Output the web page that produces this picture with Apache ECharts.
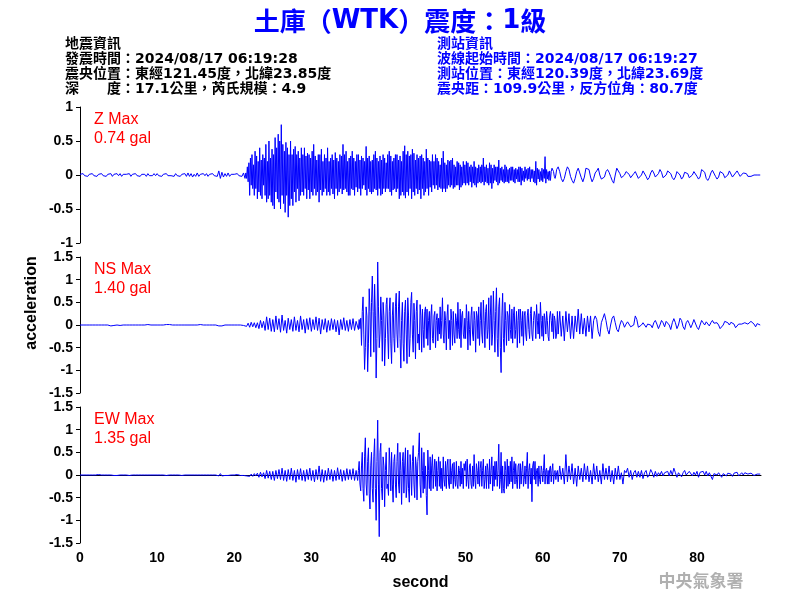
<!DOCTYPE html>
<html>
<head>
<meta charset="utf-8">
<script src="https://cdn.jsdelivr.net/npm/echarts@6/dist/echarts.min.js"></script>
<style>html,body{margin:0;padding:0;background:#fff}#c{width:800px;height:600px}</style>
</head>
<body>
<div id="c"></div>
<script>
// ---- tick labels / panel labels ----
const xTicks = [0, 10, 20, 30, 40, 50, 60, 70, 80];
const zTicks = [-1, -0.5, 0, 0.5, 1];
const hTicks = [-1.5, -1, -0.5, 0, 0.5, 1, 1.5];
const panelNames = ['Z Max', 'NS Max', 'EW Max'];
const panelMax = ['0.74 gal', '1.40 gal', '1.35 gal'];

// ---- Z component (gal) ----
// pre-event: t = 0 .. 21.4 s, every 0.2 s
const zPre = [
0.01,-0.01,0.02,-0.01,0.01, -0.02,0.01,-0.01,0.02,-0.01, 0.01,-0.02,0.01,-0.01,0.02, -0.01,0.01,-0.02,0.01,-0.01,
0.02,-0.02,0.01,-0.01,0.02, -0.01,0.02,-0.02,0.01,-0.01, 0.01,-0.01,0.02,-0.02,0.01, -0.01,0.02,-0.01,0.01,-0.02,
0.01,-0.01,0.01,-0.02,0.02, -0.01,0.01,-0.01,0.02,-0.01, 0.02,-0.01,0.01,-0.02,0.01, -0.01,0.02,-0.01,0.01,-0.01,
0.01,-0.02,0.02,-0.01,0.01, -0.02,0.01,-0.01,0.02,-0.02, 0.03,-0.02,0.02,-0.03,0.01, -0.02,0.03,-0.02,0.01,-0.01,
0.02,-0.01,0.02,-0.02,0.01, -0.01,0.02,-0.01,0.01,-0.02, 0.06,-0.05,0.04,-0.03,0.02, -0.02,0.03,-0.02,0.01,-0.01,
0.01,-0.01,0.02,-0.01,0.01, -0.02,0.03,-0.05
];
// strong motion: t = 21.5 .. 61.9 s, every 0.1 s
const zMain = [
0.03,-0.05,0.12,-0.1,0.18,
-0.3,0.25,-0.15,0.3,-0.2,0.15,-0.3,0.35,-0.2,0.28,
-0.35,0.2,-0.25,0.4,-0.3,0.22,-0.35,0.3,-0.15,0.25,
-0.3,0.45,-0.4,0.2,-0.35,0.5,-0.3,0.25,-0.4,0.38,
-0.45,0.3,-0.5,0.55,-0.25,0.4,-0.35,0.6,-0.4,0.5,
-0.5,0.74,-0.3,0.45,-0.42,0.35,-0.55,0.48,-0.3,0.4,
-0.62,0.3,-0.45,0.5,-0.35,0.3,-0.45,0.38,-0.25,0.42,
-0.4,0.3,-0.2,0.35,-0.38,0.25,-0.3,0.4,-0.25,0.3,
-0.3,0.4,-0.2,0.28,-0.35,0.32,-0.22,0.3,-0.35,0.25,
-0.25,0.35,-0.3,0.45,-0.2,0.28,-0.3,0.22,-0.25,0.3,
-0.4,0.3,-0.22,0.38,-0.3,0.2,-0.25,0.3,-0.2,0.25,
-0.3,0.4,-0.25,0.2,-0.3,0.25,-0.2,0.3,-0.28,0.22,
-0.35,0.33,-0.2,0.25,-0.3,0.2,-0.25,0.3,-0.2,0.28,
-0.28,0.45,-0.22,0.3,-0.2,0.35,-0.25,0.2,-0.3,0.25,
-0.3,0.28,-0.2,0.35,-0.22,0.25,-0.3,0.2,-0.18,0.3,
-0.25,0.3,-0.2,0.22,-0.3,0.28,-0.2,0.25,-0.15,0.2,
-0.22,0.42,-0.3,0.25,-0.2,0.28,-0.25,0.2,-0.28,0.22,
-0.25,0.3,-0.2,0.35,-0.22,0.25,-0.3,0.2,-0.2,0.28,
-0.3,0.22,-0.28,0.3,-0.2,0.25,-0.25,0.18,-0.2,0.3,
-0.2,0.35,-0.25,0.28,-0.3,0.2,-0.22,0.25,-0.2,0.3,
-0.25,0.3,-0.2,0.22,-0.35,0.28,-0.3,0.2,-0.25,0.35,
-0.3,0.43,-0.34,0.3,-0.25,0.35,-0.3,0.28,-0.2,0.3,
-0.35,0.38,-0.25,0.32,-0.3,0.22,-0.2,0.3,-0.28,0.25,
-0.22,0.28,-0.35,0.3,-0.2,0.25,-0.3,0.2,-0.25,0.38,
-0.2,0.25,-0.3,0.22,-0.18,0.2,-0.25,0.3,-0.15,0.2,
-0.2,0.3,-0.15,0.25,-0.22,0.2,-0.18,0.15,-0.2,0.25,
-0.25,0.35,-0.2,0.18,-0.25,0.15,-0.2,0.22,-0.15,0.2,
-0.18,0.22,-0.15,0.25,-0.2,0.15,-0.18,0.12,-0.15,0.2,
-0.15,0.18,-0.22,0.15,-0.18,0.12,-0.15,0.2,-0.12,0.15,
-0.15,0.2,-0.12,0.18,-0.15,0.12,-0.1,0.15,-0.18,0.12,
-0.12,0.2,-0.15,0.12,-0.18,0.1,-0.12,0.15,-0.1,0.12,
-0.12,0.15,-0.1,0.25,-0.15,0.12,-0.1,0.15,-0.12,0.1,
-0.15,0.18,-0.12,0.15,-0.2,0.1,-0.12,0.15,-0.08,0.12,
-0.1,0.12,-0.15,0.22,-0.12,0.1,-0.08,0.12,-0.1,0.08,
-0.12,0.15,-0.1,0.12,-0.1,0.08,-0.12,0.1,-0.08,0.12,
-0.08,0.12,-0.1,0.08,-0.12,0.1,-0.06,0.08,-0.1,0.12,
-0.1,0.12,-0.15,0.1,-0.08,0.06,-0.1,0.12,-0.05,0.08,
-0.08,0.1,-0.06,0.12,-0.1,0.08,-0.05,0.08,-0.1,0.06,
-0.12,0.2,-0.15,0.1,-0.06,0.08,-0.1,0.05,-0.08,0.1,
-0.1,0.08,-0.05,0.27,-0.12,0.08,-0.06,0.05,-0.08,0.06,
-0.08,0.05,0.1,0.08,0.05,-0.02,-0.05,0.0,0.08,0.1
];
// coda: t = 62.0 .. 88.2 s, every 0.2 s
const zCoda = [
0.12,0.05,-0.05,-0.1,-0.05, 0.05,0.12,0.08,-0.02,-0.08, -0.12,-0.05,0.05,0.1,0.03, -0.04,-0.1,-0.03,0.1,0.12,
0.08,-0.03,-0.1,-0.05,0.03, 0.06,0.1,0.0,-0.06,-0.08, -0.03,0.05,0.08,0.04,-0.02, -0.08,-0.12,0.0,0.1,0.08,
0.02,-0.04,-0.06,0.0,0.05, 0.06,0.01,-0.04,-0.05,0.02, 0.05,0.03,-0.05,-0.06,0.0, 0.06,0.04,-0.02,-0.07,-0.04,
0.03,0.07,0.03,-0.03,-0.05, 0.02,0.08,0.04,-0.04,-0.06, 0.0,0.06,0.08,0.02,-0.04, -0.07,-0.03,0.05,0.07,0.0,
-0.06,-0.03,0.04,0.06,0.02, -0.04,-0.06,0.0,0.05,0.04, -0.02,-0.06,-0.03,0.08,0.1, 0.04,-0.05,-0.08,-0.04,0.03,
0.07,0.05,-0.02,-0.06,-0.03, 0.05,0.06,0.02,-0.04,-0.05, 0.0,0.06,0.04,-0.03,-0.02, 0.03,0.06,0.02,-0.02,0.0,
0.03,0.05,0.02,-0.02,-0.02, -0.02,-0.02,0.0,0.01,0.0, 0.01,0.0
];

// ---- NS component (gal) ----
// t = 0 .. 35.8 s, every 0.2 s
const nsPre = [
0,0,0,0,0, 0,0,0,0,0, 0,0,0,0,0, 0,0,0,0,0.01,
-0.02,0.02,-0.01,0,0, 0.01,-0.01,0,0,0, 0,0,0,0,0, 0,0,0,0,0,
0,0,0,-0.01,0.01, 0,0,-0.01,0,0, 0,0,0,0,0, 0,0.01,-0.01,0.01,0,
0,0,0,0,0, 0,0,0,0,-0.01, 0,0,0,0,0, 0,0,0,0.01,0,
0,0,0,0,0, 0,0,0,0,0.01, -0.02,0.02,-0.02,0.01,0, 0,0,0,0,0,
0,0,0,-0.01,0, 0.01,-0.01,0.02,-0.03,0.04, -0.05,0.06,-0.04,0.05,-0.06, 0.05,-0.08,0.1,-0.06,0.08,
-0.12,0.18,-0.1,0.15,-0.14, 0.12,-0.15,0.2,-0.1,0.14, -0.16,0.22,-0.12,0.1,-0.18, 0.15,-0.1,0.12,-0.14,0.18,
-0.12,0.1,-0.15,0.2,-0.1, 0.12,-0.18,0.14,-0.1,0.16, -0.14,0.12,-0.1,0.18,-0.12, 0.15,-0.2,0.12,-0.1,0.14,
-0.16,0.1,-0.12,0.14,-0.1, 0.12,-0.15,0.1,-0.22,0.12, -0.1,0.16,-0.12,0.1,-0.14, 0.12,-0.1,0.14,-0.12,0.08
];
// t = 36.0 .. 61.9 s, every 0.1 s
const nsMain = [
0.08,-0.1,0.12,-0.08,0.15,-0.45,0.3,0.62,-0.2,-0.98,
-0.5,0.4,0.2,-1.03,-0.4,0.8,0.3,-0.7,0.5,1.08,
0.3,-0.6,0.9,0.2,-1.17,-0.3,1.39,0.4,-0.5,-0.2,
0.62,0.1,-0.8,0.5,0.2,-0.9,-0.3,0.45,0.6,-0.2,
-0.75,0.3,0.6,-0.4,-0.85,0.2,0.5,-0.3,-0.6,0.4,
0.7,-0.2,-0.5,0.4,0.75,-0.3,-0.95,0.1,0.5,-0.4,
-0.8,0.3,0.55,-0.2,-0.85,0.6,0.2,-0.7,-0.3,0.5,
0.72,-0.2,-0.6,0.48,0.1,-0.75,0.3,0.55,-0.4,-0.2,
-0.55,0.45,0.2,-0.6,0.35,-0.1,-0.5,0.3,0.4,-0.3,
0.35,-0.45,0.1,0.3,-0.55,0.2,0.45,-0.3,-0.4,0.2,
0.3,-0.5,0.1,0.25,-0.35,0.15,-0.2,0.4,-0.3,0.1,
0.6,-0.2,-0.4,0.3,0.1,-0.55,0.2,0.45,-0.3,0.1,
-0.55,0.35,0.1,-0.45,0.3,-0.2,-0.4,0.25,0.1,-0.3,
0.5,-0.1,-0.3,0.35,-0.5,0.2,0.3,-0.2,-0.3,0.15,
-0.3,0.45,0.1,-0.55,0.3,-0.1,-0.45,0.2,0.4,-0.2,
-0.35,0.3,0.1,-0.6,0.3,0.2,-0.3,0.4,-0.45,0.1,
0.5,-0.2,-0.4,0.55,0.1,-0.5,0.3,0.45,-0.3,-0.1,
0.6,-0.55,0.2,0.65,-0.45,-0.2,0.75,0.1,-0.6,0.3,
0.82,-0.3,-0.7,0.4,0.6,-0.5,-1.05,0.2,0.7,-0.3,
-0.6,0.5,0.1,-0.45,0.3,0.2,-0.35,0.45,-0.1,-0.3,
0.35,-0.4,0.2,0.4,-0.3,-0.1,0.3,-0.5,0.1,0.35,
-0.4,0.35,0.1,-0.25,0.3,-0.45,0.2,0.3,-0.2,-0.35,
0.2,0.35,-0.1,-0.3,0.25,0.4,-0.2,-0.35,0.1,0.3,
0.2,-0.3,0.45,0.1,-0.2,0.25,-0.3,0.5,0.1,-0.25,
0.2,-0.35,0.25,0.1,-0.2,0.3,0.1,-0.25,-0.35,0.2,
0.3,0.1,-0.15,0.25,-0.3,0.2,0.1,-0.3,-0.2,0.3
];
// t = 62.0 .. 88.2 s, every 0.2 s
const nsCoda = [
-0.2,0.3,-0.25,0.2,-0.35, 0.3,-0.15,0.25,-0.3,0.2, -0.3,0.2,-0.15,0.35,-0.2, 0.25,-0.2,0.15,-0.25,0.2,
-0.15,0.2,-0.3,0.1,0.2, 0.12,-0.15,-0.25,0.05,0.15, 0.25,0.1,-0.1,-0.2,0.0, 0.15,0.2,0.05,-0.1,-0.15,
0.0,0.1,0.05,-0.05,0.02, 0.07,0.03,-0.04,-0.08,0.0, 0.2,0.12,-0.05,-0.08,0.0, 0.05,0.03,-0.05,0.02,0.06,
0.0,-0.06,0.05,0.1,0.02, -0.08,0.0,0.1,0.05,-0.04, 0.08,0.12,0.0,-0.1,0.05, 0.14,0.05,-0.08,0.0,0.15,
0.1,-0.04,-0.1,0.05,0.1, 0.03,-0.06,0.02,0.12,0.08, -0.05,-0.1,0.0,0.1,0.05, 0.0,0.07,0.03,-0.02,0.05,
0.1,0.04,0.02,0.05,0.0, -0.08,-0.12,0.0,0.08,0.12, 0.05,0.0,0.06,0.1,0.02, -0.06,-0.03,0.02,0.03,0.02,
0.0,0.05,0.05,0.02,0.04, 0.08,0.06,0.02,-0.04,0.03, 0.02,0.0
];

// ---- EW component (gal) ----
// t = 0 .. 35.8 s, every 0.2 s
const ewPre = [
0,0,0,0,0, 0,0,0,0,0, 0,0,0.01,0,0, 0,0,0,0,0,
0,0,-0.01,0.02,-0.01, 0.01,0,0,0,0, 0,0,-0.01,0,0, 0,0,0,0,0,
0,0,0,0,0, 0,0,0.01,0,0, 0,0,0,0,0, 0.01,-0.01,0,0,0.01,
0,0,0,0,0, 0,-0.01,0.01,0,0, 0,0,0,0,0, 0,0,0,0,0,
0,0,0,0,0, 0,0,0,0,0.01, -0.02,0.03,-0.02,0.02,-0.01, 0.01,-0.01,0,0,0,
0,0,0.01,0,-0.01, 0.02,-0.01,0.02,-0.02,0.01, -0.03,0.02,-0.03,0.03,-0.02, 0.04,-0.05,0.06,-0.04,0.05,
-0.08,0.1,-0.07,0.08,-0.1, 0.08,-0.12,0.1,-0.08,0.12, -0.1,0.15,-0.12,0.1,-0.14, 0.12,-0.1,0.15,-0.12,0.1,
-0.16,0.12,-0.1,0.14,-0.12, 0.1,-0.14,0.12,-0.1,0.15, -0.12,0.1,-0.15,0.12,-0.1, 0.2,-0.14,0.12,-0.16,0.1,
-0.12,0.15,-0.1,0.12,-0.14, 0.1,-0.12,0.16,-0.1,0.12, -0.14,0.1,-0.12,0.14,-0.1, 0.12,-0.1,0.14,-0.12,0.1
];
// t = 36.0 .. 61.9 s, every 0.1 s
const ewMain = [
-0.12,0.1,0.3,-0.2,-0.35,0.2,0.5,-0.3,-0.58,0.4,
0.82,-0.2,-0.45,0.3,0.6,-0.4,-0.75,0.2,0.5,-0.3,
-0.6,0.4,0.8,-0.3,-1.0,0.3,1.21,-0.2,-1.36,0.5,
0.7,-0.3,-0.55,0.4,0.2,-0.7,0.1,0.5,-0.3,-0.2,
-0.45,0.6,0.2,-0.35,0.5,-0.2,-0.6,0.3,0.45,-0.2,
-0.5,0.3,0.7,-0.2,-0.4,0.5,0.1,-0.65,0.3,0.5,
-0.4,0.2,0.6,-0.5,-0.2,0.55,-0.3,-0.6,0.45,0.1,
-0.45,0.3,0.65,-0.2,-0.5,0.4,0.2,-0.55,0.3,0.5,
0.93,-0.2,-0.5,0.6,0.1,-0.4,0.5,-0.3,0.2,-0.45,
-0.88,0.55,0.1,-0.3,0.4,-0.35,0.2,0.45,-0.3,0.1,
0.35,-0.25,0.3,-0.35,0.1,0.4,-0.25,0.3,-0.3,0.15,
-0.35,0.4,-0.1,-0.25,0.3,-0.3,0.2,0.35,-0.2,-0.3,
0.35,-0.2,0.1,0.25,-0.3,0.28,-0.1,-0.25,0.3,-0.2,
-0.3,0.2,0.1,-0.25,0.3,-0.2,0.15,-0.3,0.25,0.1,
0.3,-0.25,0.35,-0.1,-0.3,0.2,0.25,-0.2,-0.3,0.2,
-0.25,0.45,-0.1,-0.3,0.25,0.1,-0.2,0.3,-0.25,0.15,
0.3,-0.25,0.1,0.35,-0.3,-0.1,0.2,-0.3,0.25,0.1,
-0.3,0.35,-0.2,0.1,0.4,-0.35,0.2,-0.25,0.3,-0.1,
0.3,-0.25,0.1,0.68,-0.3,-0.1,0.5,-0.4,0.2,-0.3,
-0.4,0.3,0.1,-0.3,0.35,-0.25,0.2,-0.2,0.3,-0.15,
0.4,-0.3,0.1,0.3,-0.2,0.25,-0.1,-0.3,0.2,0.25,
-0.3,0.25,-0.2,0.1,0.3,-0.25,-0.1,0.2,-0.2,0.15,
0.5,-0.3,0.1,0.25,-0.2,0.15,-0.59,0.2,0.3,-0.1,
0.3,-0.2,0.1,0.15,-0.25,0.2,-0.1,-0.2,0.2,0.1,
-0.15,0.1,0.45,-0.2,0.1,0.15,-0.2,0.1,-0.2,0.15,
0.2,-0.15,0.1,0.25,-0.2,0.05,0.1,-0.1,0.05,0.1
];
// t = 62.0 .. 88.2 s, every 0.2 s
const ewCoda = [
-0.15,0.2,-0.1,0.15,-0.2, 0.45,-0.15,0.2,-0.1,0.25, -0.2,0.15,-0.25,0.2,-0.1, 0.15,-0.15,0.25,-0.1,0.2,
-0.15,0.1,-0.2,0.25,-0.1, 0.2,-0.15,0.1,-0.2,0.25, -0.1,0.15,-0.1,0.2,-0.15, 0.1,-0.2,0.15,-0.1,0.2,
-0.1,0.05,-0.2,0.1,0.05, 0.15,-0.05,0.1,-0.1,0.05, 0.1,-0.05,0.08,-0.05,0.1, -0.08,0.05,0.1,-0.05,0.0,
0.12,0.05,-0.05,0.08,-0.03, 0.05,0.0,0.08,-0.02,0.05, 0.02,0.08,-0.02,0.1,0.0, 0.15,0.05,-0.05,0.05,0.08,
-0.04,0.05,0.1,0.0,-0.04, 0.08,0.04,-0.02,0.06,0.0, 0.08,-0.05,0.06,0.02,0.08, 0.0,0.08,-0.02,0.05,0.06,
-0.1,0.03,0.06,0.0,0.05, 0.07,-0.05,0.03,0.05,-0.02, 0.04,0.08,0.02,-0.03,0.04, 0.03,0.06,-0.02,0.02,0.05,
0.0,0.05,0.08,0.02,-0.02, 0.04,0.06,-0.01,0.02,0.02, 0.03,0.02
];

// build [time, value] pairs from segments (start time, sample step)
function buildTrace(segments) {
  const out = [];
  segments.forEach(([start, step, arr]) => {
    arr.forEach((v, i) => out.push([Math.round((start + i * step) * 10) / 10, v]));
  });
  return out;
}
const traces = [
  buildTrace([[0, 0.2, zPre], [21.5, 0.1, zMain], [62, 0.2, zCoda]]),
  buildTrace([[0, 0.2, nsPre], [36, 0.1, nsMain], [62, 0.2, nsCoda]]),
  buildTrace([[0, 0.2, ewPre], [36, 0.1, ewMain], [62, 0.2, ewCoda]])
];

const FONT = '"Liberation Sans", Arial, "Noto Sans CJK TC", sans-serif';
const CJK = '"Noto Sans CJK TC", sans-serif';
const LAT = '"DejaVu Sans", sans-serif';
const INFO = '"DejaVu Sans", "Noto Sans CJK TC", sans-serif';

const grids = [
  { left: 80, width: 681, top: 107, height: 136 },
  { left: 80, width: 681, top: 257, height: 136 },
  { left: 80, width: 681, top: 407, height: 136 }
];
const yRanges = [zTicks, hTicks, hTicks];

const xAxes = grids.map((g, i) => ({
  type: 'value', gridIndex: i, min: xTicks[0], max: 88.3, interval: 10,
  show: i === 2,
  axisLine: { show: true, lineStyle: { color: '#000', width: 1 } },
  axisTick: { show: false },
  splitLine: { show: false },
  axisLabel: { color: '#000', fontFamily: FONT, fontWeight: 'bold', fontSize: 14, margin: 8,
    customValues: xTicks },
  name: i === 2 ? 'second' : '', nameLocation: 'middle', nameGap: 32,
  nameTextStyle: { color: '#000', fontFamily: FONT, fontWeight: 'bold', fontSize: 16 }
}));

const yAxes = grids.map((g, i) => ({
  type: 'value', gridIndex: i,
  min: yRanges[i][0], max: yRanges[i][yRanges[i].length - 1], interval: 0.5,
  axisLine: { show: true, lineStyle: { color: '#000', width: 1 } },
  axisTick: { show: true, inside: false, length: 4, lineStyle: { color: '#000' } },
  splitLine: { show: false },
  axisLabel: { color: '#000', fontFamily: FONT, fontWeight: 'bold', fontSize: 14, margin: 7 }
}));

const series = traces.map((data, i) => ({
  type: 'line', xAxisIndex: i, yAxisIndex: i, data: data,
  showSymbol: false, symbol: 'none', sampling: null,
  lineStyle: { color: '#0000ff', width: 1 }, animation: false, silent: true
}));

const leftInfo = [
  '地震資訊',
  '發震時間：2024/08/17 06:19:28',
  '震央位置：東經121.45度，北緯23.85度',
  '深　　度：17.1公里，芮氏規模：4.9'
];
const rightInfo = [
  '測站資訊',
  '波線起始時間：2024/08/17 06:19:27',
  '測站位置：東經120.39度，北緯23.69度',
  '震央距：109.9公里，反方位角：80.7度'
];

const graphics = [];
leftInfo.forEach((t, k) => graphics.push({
  type: 'text', left: 65, top: 37 + k * 15,
  style: { text: t, fill: '#000', fontFamily: INFO, fontSize: 14, fontWeight: 'bold' }
}));
rightInfo.forEach((t, k) => graphics.push({
  type: 'text', left: 437, top: 37 + k * 15,
  style: { text: t, fill: '#0000ff', fontFamily: INFO, fontSize: 14, fontWeight: 'bold' }
}));
grids.forEach((g, i) => {
  graphics.push({
    type: 'text', left: 94, top: g.top + 3,
    style: { text: panelNames[i] + '\n' + panelMax[i], fill: '#ff0000', fontFamily: FONT,
      fontSize: 16, lineHeight: 19 }
  });
});
graphics.push({
  type: 'text', x: 32, y: 303, rotation: Math.PI / 2,
  style: { text: 'acceleration', fill: '#000', fontFamily: FONT, fontWeight: 'bold', fontSize: 16,
    align: 'center', verticalAlign: 'middle' }
});
graphics.push({
  type: 'text', x: 701, y: 581,
  style: { text: '中央氣象署', fill: '#b0b0b0', fontFamily: CJK, fontSize: 17, fontWeight: 'bold',
    align: 'center', verticalAlign: 'middle' }
});

const chart = echarts.init(document.getElementById('c'), null, { renderer: 'canvas' });
chart.setOption({
  animation: false,
  backgroundColor: '#fff',
  title: {
    text: '{c|土庫（}{l|WTK}{c|）震度：}{l|1}{c|級}', left: 'center', top: 3,
    textStyle: {
      rich: {
        c: { color: '#0000ff', fontFamily: CJK, fontSize: 26, fontWeight: 'bold' },
        l: { color: '#0000ff', fontFamily: LAT, fontSize: 26, fontWeight: 'bold' }
      }
    }
  },
  grid: grids,
  xAxis: xAxes,
  yAxis: yAxes,
  series: series,
  graphic: graphics
});
</script>
</body>
</html>
